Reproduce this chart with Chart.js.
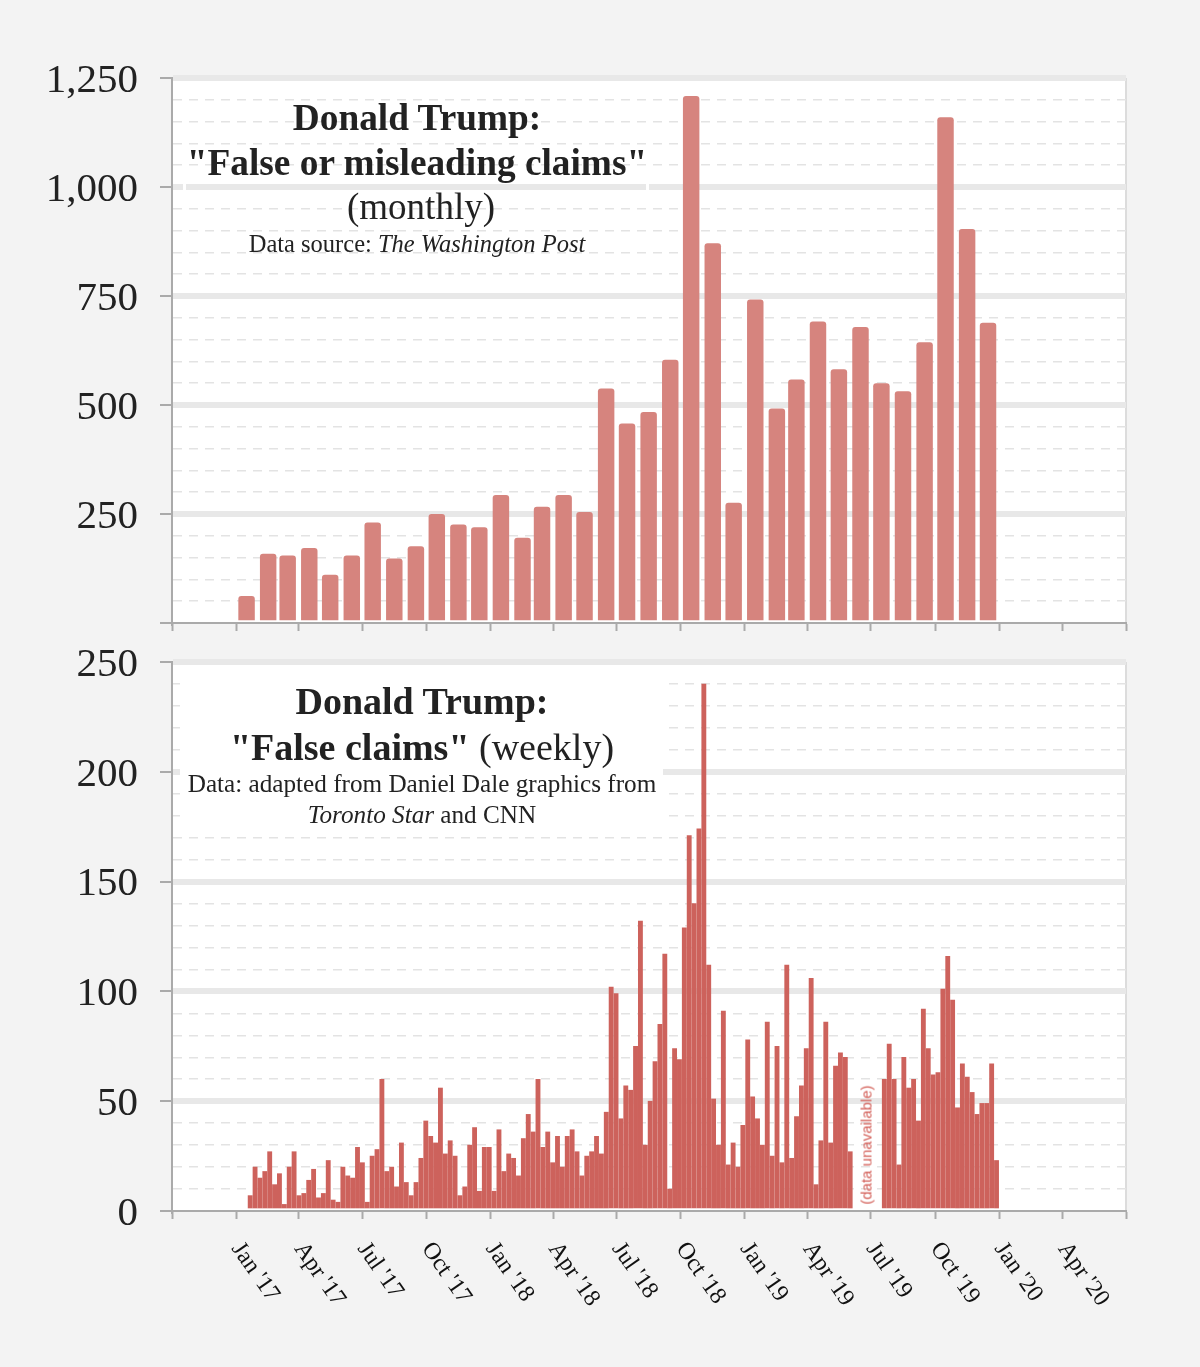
<!DOCTYPE html>
<html><head><meta charset="utf-8">
<script src="https://cdn.jsdelivr.net/npm/chart.js@4.4.1/dist/chart.umd.min.js"></script>
<style>
html,body{margin:0;padding:0;background:#f3f3f3;}
#wrap{position:relative;width:1200px;height:1367px;overflow:hidden;}
canvas{position:absolute;left:0;}
.t{position:absolute;text-align:center;font-family:'Liberation Serif','Times New Roman',serif;color:#222;white-space:nowrap;}
#box1{position:absolute;left:183px;top:92px;width:460px;height:170px;border:3px solid #fff;background:transparent;}
#box2{position:absolute;left:180px;top:670px;width:483px;height:160px;background:#fff;}
#na{position:absolute;left:866px;top:1145px;transform:translate(-50%,-50%) rotate(-90deg);font:15px 'Liberation Sans',Arial,sans-serif;color:#d35f58;white-space:nowrap;}
</style></head><body>
<div id="wrap">
<canvas id="c1" width="1200" height="640" style="top:0;width:1200px;height:640px"></canvas>
<canvas id="c2" width="1200" height="727" style="top:640px;width:1200px;height:727px"></canvas>
<div id="box1"></div>
<div id="box2"></div>
<div class="t" style="left:117px;width:600px;top:96px;font-weight:bold;font-size:37.3px;line-height:44px;">Donald Trump:</div>
<div class="t" style="left:117px;width:600px;top:141px;font-weight:bold;font-size:37.3px;line-height:44px;">"False or misleading claims"</div>
<div class="t" style="left:121px;width:600px;top:185px;font-size:37px;line-height:44px;">(monthly)</div>
<div class="t" style="left:117px;width:600px;top:229px;font-size:24.5px;line-height:29px;">Data source: <i>The Washington Post</i></div>
<div class="t" style="left:122px;width:600px;top:679px;font-weight:bold;font-size:38px;line-height:45px;">Donald Trump:</div>
<div class="t" style="left:122px;width:600px;top:725px;font-size:38px;line-height:45px;"><b>"False claims"</b> (weekly)</div>
<div class="t" style="left:122px;width:600px;top:769px;font-size:25.2px;line-height:30px;">Data: adapted from Daniel Dale graphics from</div>
<div class="t" style="left:122px;width:600px;top:800px;font-size:25.2px;line-height:30px;"><i>Toronto Star</i> and CNN</div>
<div id="na">(data unavailable)</div>
</div>
<script>
// ---------- DATA ----------
const months = [
 '2017-01','2017-02','2017-03','2017-04','2017-05','2017-06','2017-07','2017-08','2017-09','2017-10','2017-11','2017-12',
 '2018-01','2018-02','2018-03','2018-04','2018-05','2018-06','2018-07','2018-08','2018-09','2018-10','2018-11','2018-12',
 '2019-01','2019-02','2019-03','2019-04','2019-05','2019-06','2019-07','2019-08','2019-09','2019-10','2019-11','2019-12'];
const monthlyClaims = [
 61,158,154,171,110,154,230,147,175,249,225,219,
 293,195,266,293,254,537,457,483,603,1208,870,275,
 741,491,558,691,581,678,549,531,643,1159,903,688];

const firstWeekStart = '2017-01-20';
const weeklyClaims = [
 7,20,15,18,27,12,17,3,20,27,7,8,14,19,6,8,23,5,4,20,16,15,29,22,4,25,28,60,18,20,
 11,31,13,7,13,24,41,34,31,56,26,32,25,7,11,30,38,9,29,29,9,37,18,26,24,16,33,44,36,60,
 29,36,22,34,20,34,37,27,16,25,27,34,26,45,102,99,42,57,55,75,132,30,50,68,85,117,10,74,69,129,
 171,140,174,240,112,51,30,91,21,31,20,39,78,52,42,30,86,25,75,22,112,24,43,57,74,106,12,32,86,31,
 66,72,70,27,null,null,null,null,null,null,60,76,60,21,70,56,60,41,92,74,62,63,101,116,96,47,67,61,54,44,
 49,49,67,23];

const quarterTicks = ['2016-10-01','2017-01-01','2017-04-01','2017-07-01','2017-10-01','2018-01-01','2018-04-01',
 '2018-07-01','2018-10-01','2019-01-01','2019-04-01','2019-07-01','2019-10-01','2020-01-01','2020-04-01','2020-07-01'];
const quarterLabels = ['',"Jan '17","Apr '17","Jul '17","Oct '17","Jan '18","Apr '18","Jul '18","Oct '18",
 "Jan '19","Apr '19","Jul '19","Oct '19","Jan '20","Apr '20",''];

const monthlyYTicks = {max:1250, minor:50, major:250, showZero:false};
const weeklyYTicks = {max:250, minor:10, major:50, showZero:true};

// ---------- HELPERS ----------
const ORIGIN = Date.parse('2016-10-01T00:00:00Z');
const dayOf = s => (Date.parse(s + 'T00:00:00Z') - ORIGIN) / 864e5;
const X_MAX = dayOf(quarterTicks[quarterTicks.length - 1]);

const monthlyPoints = months.map((m, i) => ({x: dayOf(m + '-16'), y: monthlyClaims[i]}));
const w0 = dayOf(firstWeekStart);
const weeklyPoints = weeklyClaims.map((v, i) => ({x: w0 + i * 7 + 1.2, y: v}));

function yScale(cfg) {
  const isMajor = c => c.tick && c.tick.value % cfg.major === 0;
  return {
    type: 'linear', min: 0, max: cfg.max, position: 'left',
    afterBuildTicks: s => { const t = []; for (let v = 0; v <= cfg.max; v += cfg.minor) t.push({value: v}); s.ticks = t; },
    afterFit: s => { s.width = 172; s.paddingTop = 0; s.paddingBottom = 0; },
    ticks: {
      autoSkip: false, padding: 22, color: '#222', labelOffset: 3,
      font: {family: "'Liberation Serif', 'Times New Roman', serif", size: 41},
      callback: v => (v % cfg.major === 0 && (v !== 0 || cfg.showZero)) ? v.toLocaleString('en-US') : ''
    },
    grid: {
      color: c => (!c.tick || c.tick.value === 0) ? 'rgba(0,0,0,0)' : (isMajor(c) ? '#e8e8e8' : '#e3e3e3'),
      lineWidth: c => isMajor(c) ? 6 : 1.5,
      tickColor: c => isMajor(c) ? '#aaa' : 'rgba(0,0,0,0)',
      tickLength: 12, tickWidth: 2, drawTicks: true
    },
    border: {color: '#aaa', width: 2, dash: c => (c.tick && c.tick.value % cfg.major !== 0) ? [9, 7] : []}
  };
}
function xScale(h) {
  return {
    type: 'linear', min: 0, max: X_MAX, offset: false,
    afterBuildTicks: s => { s.ticks = quarterTicks.map(d => ({value: dayOf(d)})); },
    afterFit: s => { s.height = h; s.paddingLeft = 0; s.paddingRight = 0; },
    ticks: {display: false, autoSkip: false},
    grid: {offset: false, drawOnChartArea: false, drawTicks: true, tickLength: 8, tickColor: '#aaa', tickWidth: 2},
    border: {color: '#aaa', width: 2}
  };
}
const areaPlugin = {
  id: 'area',
  beforeDraw(chart) {
    const {ctx, chartArea: a} = chart;
    ctx.save(); ctx.fillStyle = '#ffffff'; ctx.fillRect(a.left, a.top, a.right - a.left, a.bottom - a.top);
    ctx.strokeStyle = '#dcdcdc'; ctx.lineWidth = 2;
    ctx.beginPath(); ctx.moveTo(a.right, a.top); ctx.lineTo(a.right, a.bottom); ctx.stroke();
    ctx.restore();
  }
};
const xLabelPlugin = {
  id: 'xlabels',
  afterDraw(chart) {
    const sc = chart.scales.x, ctx = chart.ctx;
    ctx.save();
    ctx.font = "24px 'Liberation Serif', 'Times New Roman', serif";
    ctx.fillStyle = '#111'; ctx.textAlign = 'left'; ctx.textBaseline = 'middle';
    quarterTicks.forEach((d, i) => {
      const lab = quarterLabels[i]; if (!lab) return;
      const px = sc.getPixelForValue(dayOf(d));
      ctx.save(); ctx.translate(px, chart.chartArea.bottom + 34); ctx.rotate(55 * Math.PI / 180);
      ctx.fillText(lab, 0, 0); ctx.restore();
    });
    ctx.restore();
  }
};
const common = {
  responsive: false, animation: false, devicePixelRatio: 1,
  plugins: {legend: {display: false}, tooltip: {enabled: false}}
};

new Chart(document.getElementById('c1'), {
  type: 'bar',
  data: {datasets: [{data: monthlyPoints, backgroundColor: '#d6847e', barThickness: 15.8, borderRadius: 3}]},
  options: Object.assign({}, common, {
    layout: {padding: {top: 78, right: 74, bottom: 0, left: 0}},
    scales: {x: xScale(17), y: yScale(monthlyYTicks)}
  }),
  plugins: [areaPlugin]
});
new Chart(document.getElementById('c2'), {
  type: 'bar',
  data: {datasets: [{data: weeklyPoints, backgroundColor: '#cd625c', barThickness: 4.2}]},
  options: Object.assign({}, common, {
    layout: {padding: {top: 22, right: 74, bottom: 0, left: 0}},
    scales: {x: xScale(156), y: yScale(weeklyYTicks)}
  }),
  plugins: [areaPlugin, xLabelPlugin]
});
</script>
</body></html>
